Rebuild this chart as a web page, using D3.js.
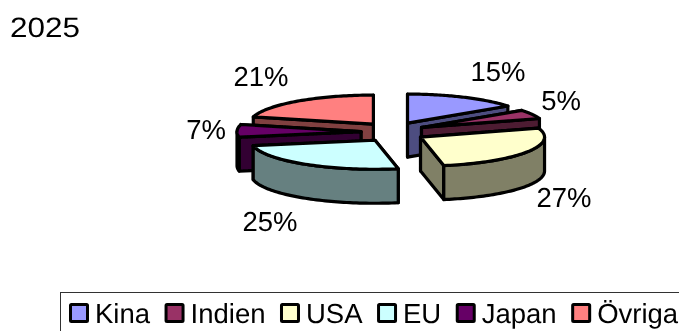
<!DOCTYPE html>
<html><head><meta charset="utf-8">
<style>html,body{margin:0;padding:0;background:#fff;overflow:hidden}svg{display:block}text{font-family:"Liberation Sans",Arial,sans-serif;fill:#000;text-rendering:geometricPrecision}</style>
<script src="https://cdn.jsdelivr.net/npm/d3@7"></script></head><body>
<svg id="c" width="679" height="331"></svg>
<script>
const title = "2025";
const categories = ["Kina","Indien","USA","EU","Japan","Övriga"];
const values = [15,5,27,25,7,21];
const topColors = ["#9999FF","#993366","#FFFFCC","#CCFFFF","#660066","#FF8080"];
const wallColors = ["#4D4D80","#4D1A33","#808066","#668080","#330033","#804040"];
const drawOrder = [5,4,3,0,1,2];
const labelPos = [[498,81],[561,110],[564,207],[270,231],[206,139],[261,86]];

const cx=393, cy=132, rx=124, ry=29, depth=34, exX=32, exY=10;
const svg=d3.select("#c");
const defs=svg.append("defs");
defs.append("filter").attr("id","soft").append("feGaussianBlur").attr("stdDeviation",0.4);
const root=svg.append("g").attr("filter","url(#soft)");
const arcs=d3.pie().sort(null).value(d=>d)(values);
const pt=(a,ax,ay,dz=0)=>[ax+rx*Math.sin(a), ay-ry*Math.cos(a)+dz];
const line=d3.line().curve(d3.curveLinear);
const range=(a,b)=>d3.range(0,61).map(i=>a+(b-a)*i/60);
const g=root.append("g").attr("stroke","#000").attr("stroke-width",3.2).attr("stroke-linejoin","round");
drawOrder.forEach(i=>{
  const s=arcs[i], mid=(s.startAngle+s.endAngle)/2;
  const ax=cx+exX*Math.sin(mid), ay=cy-exY*Math.cos(mid);
  const face=a=>[[ax,ay],pt(a,ax,ay),pt(a,ax,ay,depth),[ax,ay+depth]];
  const faces=Math.sin(mid)<0?[s.endAngle,s.startAngle]:[s.startAngle,s.endAngle];
  faces.forEach(a=>g.append("path").attr("fill",wallColors[i]).attr("d",line(face(a))+"Z"));
  const a0=Math.max(s.startAngle,Math.PI/2), a1=Math.min(s.endAngle,3*Math.PI/2);
  if(a1>a0){
    const rs=range(a0,a1);
    g.append("path").attr("fill",wallColors[i])
     .attr("d",line(rs.map(a=>pt(a,ax,ay)).concat(rs.slice().reverse().map(a=>pt(a,ax,ay,depth))))+"Z");
  }
  g.append("path").attr("fill",topColors[i])
   .attr("d",line([[ax,ay]].concat(range(s.startAngle,s.endAngle).map(a=>pt(a,ax,ay))))+"Z");
});
root.append("text").attr("x",10).attr("y",37).attr("font-size",28)
  .attr("textLength",70).attr("lengthAdjust","spacingAndGlyphs").text(title);
values.forEach((v,i)=>root.append("text").attr("x",labelPos[i][0]).attr("y",labelPos[i][1])
  .attr("text-anchor","middle").attr("font-size",27.5).text(v+"%"));
root.append("rect").attr("x",60.5).attr("y",292.5).attr("width",640).attr("height",60)
  .attr("fill","#fff").attr("stroke","#333").attr("stroke-width",1);
let x=69;
categories.forEach((c,i)=>{
  root.append("rect").attr("x",x+1.5).attr("y",304.5).attr("width",17).attr("height",17)
    .attr("fill",topColors[i]).attr("stroke","#000").attr("stroke-width",3).attr("rx",1);
  const t=root.append("text").attr("x",x+26).attr("y",323).attr("font-size",27.5).text(c);
  x+=26+t.node().getComputedTextLength()+14.5;
});
</script></body></html>
